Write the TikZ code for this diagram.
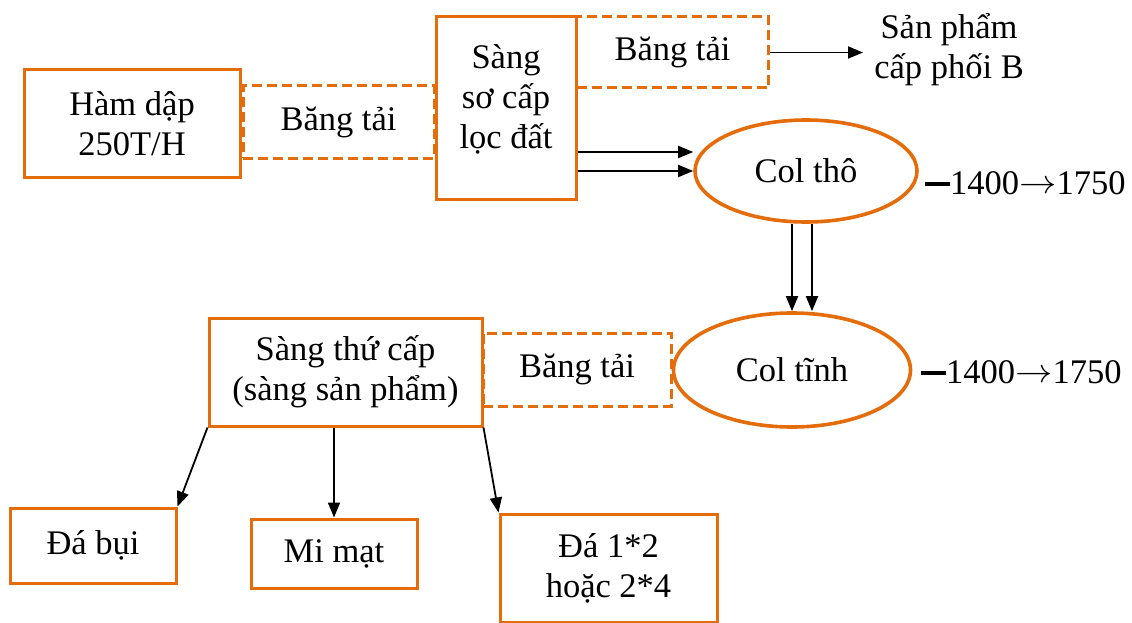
\documentclass[tikz,border=0pt]{standalone}
\usepackage{fontspec}
\setmainfont{Liberation Serif}
\usetikzlibrary{arrows.meta,shapes.geometric}
\definecolor{org}{HTML}{E46C0A}
\newcommand{\rng}{\rule[8.5pt]{25pt}{3.8pt}1400\raisebox{1pt}{\scalebox{1.5}[1.35]{$\rightarrow$}}1750}
\begin{document}
\begin{tikzpicture}[x=1pt,y=-1pt,
  every node/.style={font=\fontsize{34.5}{40}\selectfont, align=center, inner sep=0pt},
  box/.style={draw=org, line width=3pt, rectangle, fill=white},
  dbox/.style={draw=org, line width=3pt, rectangle, dash pattern=on 10pt off 5pt},
  oval/.style={draw=org, line width=3.6pt, ellipse},
  arr/.style={draw=black, line width=1.8pt, -{Triangle[length=15pt,width=12pt]}}]
\useasboundingbox (0,0) rectangle (1132,623);
% top row
\node[box, minimum width=216pt, minimum height=107pt] (ham) at (132,123.5) {Hàm dập\\250T/H};
\node[dbox, minimum width=191pt, minimum height=72pt] (bt1) at (338.5,122) {Băng tải};
\node[box, minimum width=140pt, minimum height=183pt] (ssc) at (506,108) {};
\node (ssctext) at (506,99) {Sàng\\sơ cấp\\lọc đất};
\node[dbox, minimum width=192pt, minimum height=71pt] (bt2) at (672.5,52.5) {Băng tải};
\node (sp) at (949,50) {Sản phẩm\\cấp phối B};
\coordinate (spin) at (863,52.5);
\draw[arr] (bt2.east) -- (spin);
% Col tho
\node[oval, minimum width=222pt, minimum height=102pt] (colt) at (806,171) {Col thô};
\node[anchor=west] (n1) at (925,183) {\rng};
\draw[arr] ([yshift=-44pt]ssc.east) -- ([yshift=19pt]colt.west);
\draw[arr] ([yshift=-63pt]ssc.east) -- (colt.west);
% Col tinh
\node[oval, minimum width=237pt, minimum height=114pt] (coltinh) at (792,370) {Col tĩnh};
\node[anchor=west] (n2) at (921,372) {\rng};
\draw[arr] ([xshift=-14pt]colt.south) -- (coltinh.north);
\draw[arr] ([xshift=6pt]colt.south) -- ([xshift=20pt]coltinh.north);
% second row
\node[box, minimum width=273pt, minimum height=108pt] (stc) at (345.5,372) {Sàng thứ cấp\\(sàng sản phẩm)};
\node[dbox, minimum width=188pt, minimum height=73pt] (bt3) at (577,369.5) {Băng tải};
% products
\node[box, minimum width=166pt, minimum height=75pt] (dabui) at (93,545.5) {Đá bụi};
\node[box, minimum width=166pt, minimum height=69pt] (mimat) at (334,553.5) {Mi mạt};
\node[box, minimum width=217pt, minimum height=108pt] (da12) at (608.5,568) {Đá 1*2\\hoặc 2*4};
\draw[arr] (stc.south west) -- (dabui.north east);
\draw[arr] (stc.south -| mimat.north) -- (mimat.north);
\draw[arr] (stc.south east) -- (da12.north west);
\end{tikzpicture}
\end{document}
